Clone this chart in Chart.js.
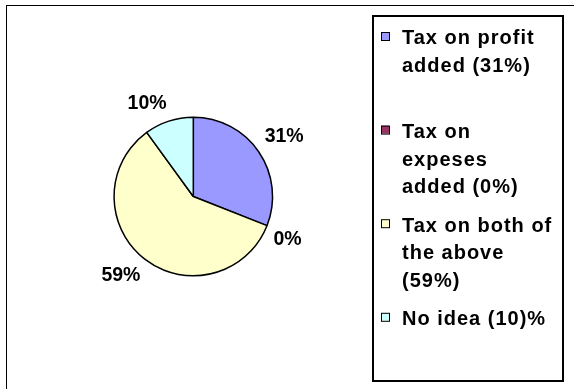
<!DOCTYPE html>
<html>
<head>
<meta charset="utf-8">
<script src="https://cdn.jsdelivr.net/npm/chart.js@4.4.1/dist/chart.umd.min.js"></script>
<style>
  html, body { margin: 0; padding: 0; background: #fff; }
  #wrap { position: relative; width: 574px; height: 389px; overflow: hidden; }
  #frame { position: absolute; left: 6px; top: 5px; right: -10px; bottom: -10px;
           border-top: 1px solid #000; border-left: 1px solid #000; }
  canvas { position: absolute; left: 0; top: 0; }
</style>
</head>
<body>
<div id="wrap">
  <div id="frame"></div>
  <canvas id="pie" width="574" height="389"></canvas>
</div>
<script>
// legend entries, one array item per printed line
const categories = [
  ["Tax on profit", "added (31%)"],
  ["Tax on", "expeses", "added (0%)"],
  ["Tax on both of", "the above", "(59%)"],
  ["No idea (10)%"]
];
const shares = [31, 0, 59, 10];
const sliceColors = ["#9999FF", "#993366", "#FFFFCC", "#CCFFFF"];

const FONT = "'Liberation Sans', Arial, sans-serif";

// percentage labels outside each slice: the label box corner nearest the
// pie sits a fixed distance out along the slice's middle angle
const sliceLabels = {
  id: "sliceLabels",
  afterDatasetsDraw(chart) {
    const ctx = chart.ctx;
    const values = chart.data.datasets[0].data;
    ctx.save();
    ctx.font = "bold 19.5px " + FONT;
    ctx.fillStyle = "#000";
    ctx.textAlign = "center";
    ctx.textBaseline = "middle";
    const boxH = 22;
    chart.getDatasetMeta(0).data.forEach((arc, i) => {
      const { x, y, startAngle, endAngle, outerRadius } =
        arc.getProps(["x", "y", "startAngle", "endAngle", "outerRadius"], true);
      const mid = (startAngle + endAngle) / 2;
      const dx = Math.cos(mid), dy = Math.sin(mid);
      const text = values[i] + "%";
      const w = ctx.measureText(text).width;
      const r = outerRadius + 7;
      ctx.fillText(text,
        x + dx * r + Math.sign(dx) * w / 2,
        y + dy * r + Math.sign(dy) * boxH / 2);
    });
    ctx.restore();
  }
};

// boxed legend on the right
const boxLegend = {
  id: "boxLegend",
  afterDraw(chart) {
    const ctx = chart.ctx;
    const colors = chart.data.datasets[0].backgroundColor;
    ctx.save();
    ctx.lineWidth = 2;
    ctx.strokeStyle = "#000";
    ctx.strokeRect(373, 16, 190, 365);

    ctx.font = "bold 20px " + FONT;
    ctx.letterSpacing = "1px";
    ctx.textBaseline = "alphabetic";
    chart.data.labels.forEach((lines, i) => {
      const base = 44.3 + i * 93.6;
      ctx.fillStyle = colors[i];
      ctx.fillRect(381, base - 12.3, 8, 8);
      ctx.lineWidth = 1;
      ctx.strokeStyle = "#000";
      ctx.strokeRect(381.5, base - 11.8, 8, 8);
      ctx.fillStyle = "#000";
      lines.forEach((line, j) => ctx.fillText(line, 402, base + j * 27.6));
    });
    ctx.restore();
  }
};

new Chart(document.getElementById("pie"), {
  type: "pie",
  data: {
    labels: categories,
    datasets: [{
      data: shares,
      backgroundColor: sliceColors,
      borderColor: "#000",
      borderWidth: 1.5
    }]
  },
  options: {
    responsive: false,
    animation: false,
    devicePixelRatio: 1,
    layout: { padding: { left: 113.3, top: 116.5, right: 300.7, bottom: 112.5 } },
    plugins: {
      legend: { display: false },
      tooltip: { enabled: false }
    }
  },
  plugins: [sliceLabels, boxLegend]
});
</script>
</body>
</html>
